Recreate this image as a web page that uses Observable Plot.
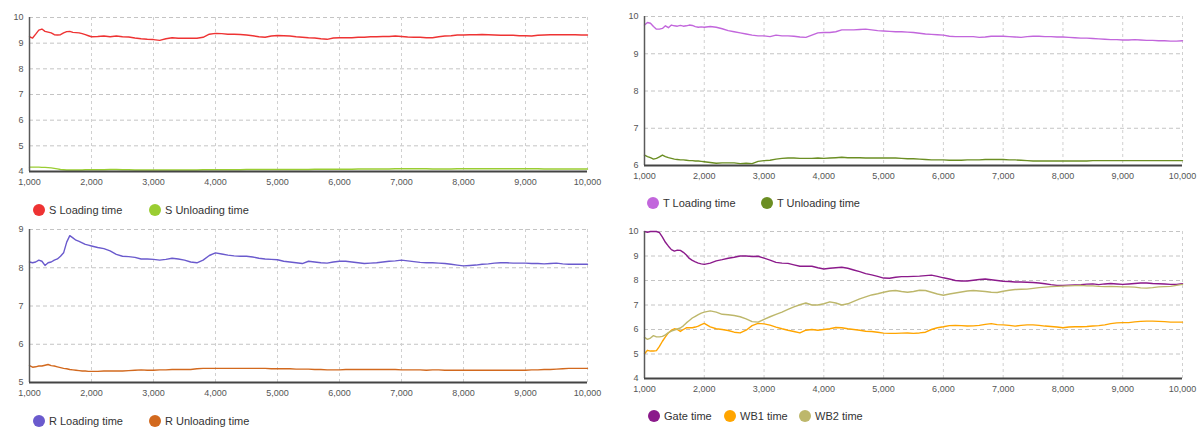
<!DOCTYPE html>
<html><head><meta charset="utf-8">
<script src="https://cdn.jsdelivr.net/npm/d3@7"></script>
<script src="https://cdn.jsdelivr.net/npm/@observablehq/plot@0.6"></script>
<style>
body{margin:0;background:#fff;font-family:"Liberation Sans",Arial,sans-serif;}
#root{position:relative;width:1197px;height:428px;overflow:hidden;background:#fff;}
.panel{position:absolute;}
.item{position:absolute;display:flex;align-items:center;font-size:11px;color:#333;white-space:nowrap;transform:translateY(-50%);}
.dot{display:inline-block;width:12px;height:12px;border-radius:50%;margin-right:4px;}
</style></head><body><div id="root"></div><script>
// x positions (simulation count)
const xs = d3.range(1000, 2000, 50).concat(d3.range(2000, 10001, 100));
const xTicks = [1000, 2000, 3000, 4000, 5000, 6000, 7000, 8000, 9000, 10000];

// S panel
const sLoading = [9.25,9.2,9.35,9.51,9.55,9.46,9.43,9.4,9.33,9.32,9.33,9.4,9.45,9.46,9.42,9.41,9.4,9.37,9.33,9.29,9.25,
9.26,9.28,9.25,9.28,9.25,9.24,9.2,9.17,9.15,9.14,
9.11,9.17,9.21,9.19,9.19,9.19,9.19,9.23,9.35,9.38,
9.37,9.35,9.35,9.34,9.32,9.29,9.25,9.23,9.28,9.3,
9.29,9.28,9.25,9.23,9.21,9.2,9.17,9.15,9.2,9.21,
9.21,9.21,9.23,9.23,9.25,9.25,9.26,9.26,9.28,9.26,
9.24,9.23,9.23,9.21,9.21,9.25,9.28,9.29,9.32,9.32,
9.33,9.33,9.34,9.33,9.32,9.31,9.31,9.31,9.29,9.29,
9.28,9.31,9.32,9.33,9.33,9.33,9.33,9.33,9.32,9.32];
const sUnloading = [4.17,4.17,4.17,4.17,4.16,4.16,4.15,4.14,4.12,4.1,4.08,4.07,4.06,4.06,4.06,4.06,4.06,4.06,4.07,4.07,4.07,
4.07,4.07,4.08,4.08,4.07,4.07,4.06,4.06,4.06,4.06,
4.06,4.06,4.06,4.06,4.06,4.06,4.06,4.07,4.07,4.07,
4.07,4.07,4.07,4.07,4.08,4.08,4.08,4.08,4.08,4.08,
4.08,4.08,4.08,4.08,4.08,4.09,4.09,4.09,4.09,4.09,
4.09,4.09,4.1,4.1,4.1,4.1,4.1,4.1,4.11,4.11,
4.11,4.11,4.11,4.11,4.1,4.1,4.1,4.1,4.11,4.11,
4.11,4.11,4.11,4.11,4.11,4.11,4.11,4.11,4.11,4.11,
4.11,4.11,4.1,4.1,4.1,4.1,4.1,4.1,4.1,4.1];

// T panel
const tLoading = [9.77,9.84,9.82,9.73,9.66,9.66,9.68,9.75,9.7,9.77,9.75,9.74,9.76,9.74,9.75,9.77,9.76,9.73,9.71,9.72,9.71,
9.73,9.71,9.67,9.62,9.59,9.56,9.53,9.5,9.48,9.48,
9.46,9.5,9.48,9.48,9.47,9.45,9.44,9.5,9.56,9.57,
9.57,9.59,9.64,9.64,9.64,9.65,9.66,9.64,9.62,9.61,
9.6,9.59,9.59,9.58,9.57,9.55,9.53,9.52,9.51,9.5,
9.47,9.46,9.46,9.46,9.46,9.44,9.45,9.47,9.47,9.47,
9.46,9.45,9.44,9.46,9.47,9.47,9.46,9.46,9.45,9.45,
9.44,9.43,9.42,9.42,9.41,9.4,9.39,9.38,9.38,9.37,
9.37,9.38,9.37,9.36,9.36,9.35,9.35,9.34,9.34,9.35];
const tUnloading = [6.28,6.24,6.21,6.17,6.19,6.23,6.28,6.24,6.21,6.19,6.17,6.16,6.15,6.15,6.14,6.13,6.13,6.12,6.12,6.11,6.1,
6.08,6.06,6.07,6.07,6.07,6.05,6.06,6.05,6.11,6.13,
6.14,6.17,6.19,6.2,6.2,6.19,6.19,6.19,6.2,6.19,
6.2,6.21,6.22,6.21,6.21,6.21,6.2,6.2,6.2,6.2,
6.2,6.2,6.19,6.18,6.18,6.17,6.16,6.15,6.15,6.15,
6.14,6.14,6.14,6.15,6.15,6.15,6.16,6.16,6.16,6.16,
6.15,6.15,6.14,6.13,6.12,6.12,6.12,6.12,6.12,6.12,
6.12,6.12,6.12,6.12,6.13,6.13,6.13,6.13,6.13,6.13,
6.13,6.13,6.13,6.13,6.13,6.13,6.13,6.13,6.13,6.13];

// R panel
const rLoading = [8.15,8.13,8.15,8.2,8.17,8.06,8.13,8.15,8.2,8.23,8.3,8.39,8.67,8.84,8.78,8.72,8.69,8.65,8.61,8.59,8.57,
8.53,8.5,8.44,8.35,8.3,8.29,8.27,8.23,8.23,8.22,
8.2,8.22,8.25,8.23,8.2,8.15,8.13,8.2,8.32,8.39,
8.36,8.33,8.31,8.3,8.3,8.28,8.25,8.23,8.22,8.21,
8.17,8.15,8.13,8.11,8.17,8.15,8.13,8.12,8.15,8.17,
8.17,8.15,8.13,8.11,8.12,8.13,8.15,8.17,8.18,8.2,
8.18,8.16,8.14,8.13,8.13,8.12,8.11,8.09,8.07,8.05,
8.06,8.07,8.09,8.1,8.12,8.13,8.13,8.12,8.12,8.12,
8.11,8.11,8.1,8.11,8.12,8.1,8.09,8.09,8.09,8.09];
const rUnloading = [5.44,5.4,5.41,5.43,5.43,5.45,5.47,5.44,5.43,5.41,5.39,5.37,5.36,5.34,5.33,5.32,5.31,5.3,5.3,5.29,5.29,
5.29,5.3,5.3,5.3,5.3,5.31,5.32,5.33,5.32,5.32,
5.33,5.33,5.34,5.34,5.34,5.34,5.36,5.37,5.37,5.37,
5.37,5.37,5.37,5.37,5.37,5.37,5.37,5.37,5.36,5.36,
5.36,5.36,5.35,5.35,5.35,5.34,5.34,5.33,5.33,5.33,
5.34,5.34,5.34,5.34,5.34,5.34,5.34,5.34,5.34,5.33,
5.33,5.33,5.33,5.32,5.33,5.33,5.32,5.32,5.32,5.32,
5.32,5.32,5.32,5.32,5.32,5.32,5.32,5.32,5.32,5.32,
5.33,5.33,5.34,5.34,5.35,5.36,5.37,5.37,5.37,5.37];

// Gate / WB panel
const gateTime = [10,9.97,10,10,10,9.95,9.77,9.56,9.4,9.26,9.2,9.24,9.23,9.15,9.04,8.9,8.82,8.76,8.71,8.68,8.66,
8.71,8.8,8.85,8.91,8.95,9.0,9.0,8.98,8.99,8.91,
8.83,8.74,8.71,8.7,8.64,8.58,8.58,8.58,8.52,8.47,
8.5,8.52,8.54,8.5,8.43,8.36,8.28,8.23,8.17,8.1,
8.09,8.13,8.16,8.16,8.17,8.18,8.2,8.22,8.17,8.11,
8.06,8.0,7.98,7.98,8.01,8.04,8.06,8.03,8.0,7.97,
7.96,7.94,7.94,7.93,7.92,7.9,7.87,7.83,7.8,7.8,
7.81,7.82,7.83,7.85,7.86,7.83,7.86,7.88,7.86,7.84,
7.86,7.88,7.9,7.9,7.88,7.87,7.86,7.84,7.84,7.87];
const wb1Time = [5.01,5.15,5.12,5.12,5.14,5.31,5.52,5.7,5.86,5.97,6.03,6.0,5.92,6.0,6.07,6.07,6.07,6.1,6.14,6.2,6.25,
6.11,6.03,6.0,5.96,5.89,5.86,5.97,6.16,6.25,6.23,
6.18,6.1,6.03,5.97,5.92,5.86,5.97,6.0,5.97,6.0,
6.03,6.08,6.07,6.03,6.0,5.97,5.93,5.92,5.89,5.85,
5.84,5.84,5.85,5.86,5.84,5.86,5.89,6.0,6.07,6.11,
6.16,6.17,6.16,6.14,6.15,6.17,6.21,6.24,6.2,6.19,
6.17,6.14,6.17,6.19,6.19,6.17,6.14,6.12,6.1,6.07,
6.1,6.11,6.11,6.12,6.14,6.16,6.19,6.24,6.27,6.28,
6.28,6.31,6.33,6.34,6.34,6.33,6.32,6.3,6.3,6.3];
const wb2Time = [5.68,5.6,5.65,5.75,5.7,5.7,5.72,5.78,5.87,5.93,5.98,6.02,6.06,6.15,6.27,6.37,6.47,6.54,6.61,6.67,6.71,
6.76,6.71,6.62,6.6,6.57,6.52,6.43,6.32,6.3,6.41,
6.52,6.62,6.71,6.82,6.92,7.01,7.08,7.0,7.0,7.05,
7.13,7.08,7.0,7.05,7.15,7.25,7.33,7.41,7.46,7.52,
7.57,7.59,7.55,7.52,7.55,7.6,7.59,7.52,7.45,7.4,
7.45,7.49,7.53,7.57,7.59,7.57,7.55,7.52,7.51,7.56,
7.6,7.63,7.64,7.65,7.68,7.71,7.73,7.75,7.76,7.77,
7.78,7.79,7.8,7.78,7.78,7.76,7.75,7.76,7.75,7.74,
7.74,7.73,7.7,7.69,7.71,7.74,7.75,7.76,7.8,7.84];

const panels = [
  {left:0, top:0, w:598, h:190, ml:29, mr:11, mt:17, mb:19, y:[4,10], yTicks:[4,5,6,7,8,9,10],
   series:[{name:"S Loading time", v:sLoading, c:"#ee3333"},{name:"S Unloading time", v:sUnloading, c:"#9acd32"}],
   legY:210, legX:[33,149]},
  {left:600, top:0, w:597, h:185, ml:44, mr:15, mt:16, mb:20, y:[6,10], yTicks:[6,7,8,9,10],
   series:[{name:"T Loading time", v:tLoading, c:"#c266dc"},{name:"T Unloading time", v:tUnloading, c:"#6b8e23"}],
   legY:202.5, legX:[647,761]},
  {left:0, top:215, w:598, h:185, ml:29, mr:11, mt:14, mb:18, y:[5,9], yTicks:[5,6,7,8,9],
   series:[{name:"R Loading time", v:rLoading, c:"#6a5acd"},{name:"R Unloading time", v:rUnloading, c:"#d2691e"}],
   legY:421, legX:[33,149]},
  {left:600, top:215, w:597, h:180, ml:44, mr:15, mt:16, mb:17, y:[4,10], yTicks:[4,5,6,7,8,9,10],
   series:[{name:"Gate time", v:gateTime, c:"#8b1a8b"},{name:"WB1 time", v:wb1Time, c:"#ffa500"},{name:"WB2 time", v:wb2Time, c:"#bdb76b"}],
   legY:416, legX:[648,724,799]}
];

const root = document.getElementById("root");
for (const p of panels) {
  const lineMarks = p.series.map(s => {
    const rows = s.v.map((v, i) => ({x: xs[i], y: v}));
    return Plot.line(rows, {x: "x", y: "y", stroke: s.c, strokeWidth: 1.4});
  });
  const chart = Plot.plot({
    width: p.w, height: p.h,
    marginLeft: p.ml, marginRight: p.mr, marginTop: p.mt, marginBottom: p.mb,
    x: {domain: [1000, 10000]},
    y: {domain: p.y},
    style: {fontFamily: "'Liberation Sans', Arial, sans-serif", fontSize: "9px", color: "#555", background: "transparent", overflow: "visible"},
    marks: [
      Plot.gridY({ticks: p.yTicks, stroke: "#c4c4c4", strokeOpacity: 1, strokeDasharray: "4,3"}),
      Plot.gridX({ticks: xTicks, stroke: "#d0d0d0", strokeOpacity: 1, strokeDasharray: "3,3"}),
      Plot.axisY({ticks: p.yTicks, tickSize: 0, tickPadding: 6, label: null, tickFormat: d3.format("d")}),
      Plot.axisX({ticks: xTicks, tickSize: 0, tickPadding: 7, label: null, tickFormat: d3.format(",")}),
      ...lineMarks,
      Plot.ruleX([1000], {stroke: "#5a5a5a", strokeWidth: 1.5}),
      Plot.ruleY([p.y[0]], {stroke: "#444", strokeWidth: 2})
    ]
  });
  const div = document.createElement("div");
  div.className = "panel";
  div.style.left = p.left + "px";
  div.style.top = p.top + "px";
  div.appendChild(chart);
  root.appendChild(div);
  p.series.forEach((s, i) => {
    const it = document.createElement("div");
    it.className = "item";
    it.style.left = p.legX[i] + "px";
    it.style.top = p.legY + "px";
    const dot = document.createElement("span");
    dot.className = "dot";
    dot.style.background = s.c;
    it.appendChild(dot);
    it.appendChild(document.createTextNode(s.name));
    root.appendChild(it);
  });
}
</script></body></html>
